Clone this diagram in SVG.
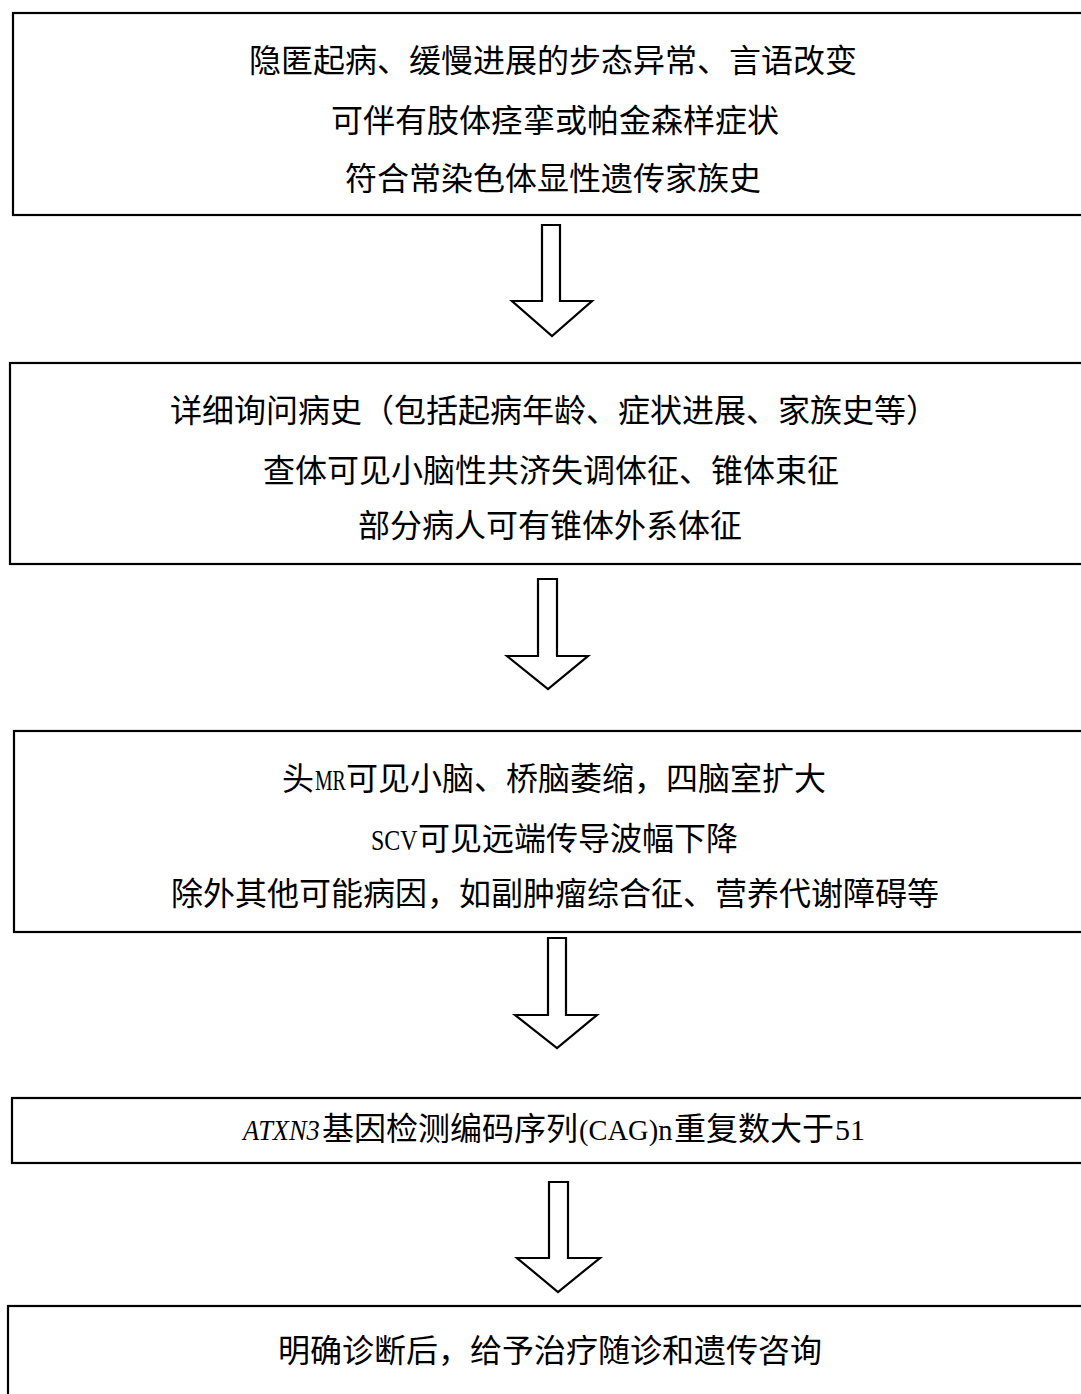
<svg xmlns="http://www.w3.org/2000/svg" width="1081" height="1394" viewBox="0 0 1081 1394">
<style>
.box{fill:#fff;stroke:#000;stroke-width:2.2}
.arr{fill:#fff;stroke:#000;stroke-width:2.2;stroke-linejoin:miter}
.t{font-family:"Noto Sans CJK SC","Liberation Serif",serif;font-size:32px;fill:#000;text-anchor:middle}
.s{font-family:"Noto Sans CJK SC","Liberation Serif",serif;font-size:32px;fill:#000}
.l{font-family:"Liberation Serif",serif;font-size:30px;fill:#000}
.i{font-style:italic}
</style>
<rect width="1081" height="1394" fill="#fff"/>
<g id="n1">
<rect class="box" x="13" y="13" width="1080" height="202"/>
<text class="t" x="553" y="72">隐匿起病、缓慢进展的步态异常、言语改变</text>
<text class="t" x="555" y="132">可伴有肢体痉挛或帕金森样症状</text>
<text class="t" x="553" y="190">符合常染色体显性遗传家族史</text>
</g>
<g id="n2">
<rect class="box" x="10" y="363" width="1080" height="201"/>
<text class="t" x="554" y="422">详细询问病史（包括起病年龄、症状进展、家族史等）</text>
<text class="t" x="551" y="482">查体可见小脑性共济失调体征、锥体束征</text>
<text class="t" x="550" y="537">部分病人可有锥体外系体征</text>
</g>
<g id="n3">
<rect class="box" x="14" y="731" width="1080" height="201"/>
<text class="s" x="282" y="790">头</text>
<text class="l" transform="translate(315,790) scale(0.66,1)">MR</text>
<text class="s" x="346" y="790">可见小脑、桥脑萎缩，四脑室扩大</text>
<text class="l" transform="translate(371,850) scale(0.8,1)">SCV</text>
<text class="s" x="418" y="850">可见远端传导波幅下降</text>
<text class="t" x="555" y="905">除外其他可能病因，如副肿瘤综合征、营养代谢障碍等</text>
</g>
<g id="n4">
<rect class="box" x="12" y="1098" width="1080" height="65"/>
<text class="l i" transform="translate(243,1140) scale(0.88,1)">ATXN3</text>
<text class="s" x="322" y="1140">基因检测编码序列</text>
<text class="l" transform="translate(579,1140) scale(0.95,1)">(CAG)n</text>
<text class="s" x="674" y="1140">重复数大于</text>
<text class="l" x="835" y="1140">51</text>
</g>
<g id="n5">
<rect class="box" x="8" y="1306" width="1085" height="100"/>
<text class="t" x="550" y="1362">明确诊断后，给予治疗随诊和遗传咨询</text>
</g>
<g id="connectors">
<polygon class="arr" points="542,225 560,225 560,301 592,301 552,336 512,301 542,301"/>
<polygon class="arr" points="538,579 557,579 557,656 588,656 548,689 507,656 538,656"/>
<polygon class="arr" points="548,938 566,938 566,1015 597,1015 557,1048 515,1015 548,1015"/>
<polygon class="arr" points="549,1182 568,1182 568,1258 600,1258 558,1292 517,1258 549,1258"/>
</g>
</svg>
